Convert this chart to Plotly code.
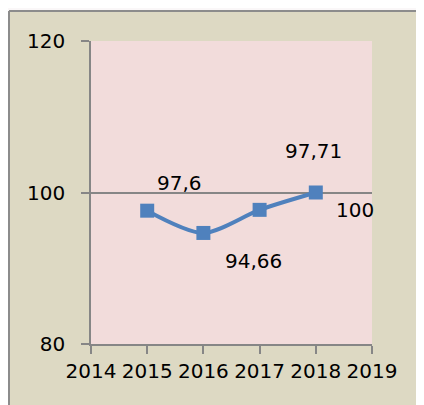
import plotly.graph_objects as go

years = [2015, 2016, 2017, 2018]
values = [97.6, 94.66, 97.71, 100]
labels = ["97,6", "94,66", "97,71", "100"]
x_ticks = [2014, 2015, 2016, 2017, 2018, 2019]
y_ticks = [80, 100, 120]

# label offsets (px) as placed in the original chart
label_dx = [32, 50, -2, 39]
label_dy = [28, -28, 42, -17]
label_anchor_idx = [0, 1, 3, 3]

FONT = "DejaVu Sans"
OUTER = "#FAF7F8"
BEIGE = "#DDD9C3"

fig = go.Figure()
fig.add_trace(go.Scatter(
    x=years, y=values, mode="lines+markers",
    line=dict(color="#4F81BD", width=4, shape="spline", smoothing=0.8),
    marker=dict(symbol="square", size=14, color="#4F81BD"),
    hoverinfo="skip", showlegend=False,
))

for i, txt in enumerate(labels):
    j = label_anchor_idx[i]
    fig.add_annotation(
        x=years[j], y=values[j], text=txt, showarrow=False,
        xshift=label_dx[i], yshift=label_dy[i],
        font=dict(family=FONT, size=20, color="#000000"),
    )

bx0 = -82 / 281
by1 = 1 + 30 / 303
# whitish area outside the chart box
fig.add_shape(type="rect", xref="paper", yref="paper",
              x0=-1, x1=2, y0=by1, y1=2, fillcolor=OUTER, line_width=0, layer="below")
fig.add_shape(type="rect", xref="paper", yref="paper",
              x0=-1, x1=bx0, y0=-1, y1=2, fillcolor=OUTER, line_width=0, layer="below")
# chart box border
fig.add_shape(type="line", xref="paper", yref="paper",
              x0=bx0, x1=2, y0=by1, y1=by1, line=dict(color="#8C8C8C", width=2))
fig.add_shape(type="line", xref="paper", yref="paper",
              x0=bx0, x1=bx0, y0=-1, y1=by1, line=dict(color="#8C8C8C", width=2))

fig.update_layout(
    width=416, height=397,
    margin=dict(l=83, r=52, t=33, b=61),
    paper_bgcolor=BEIGE,
    plot_bgcolor="#F2DCDB",
    font=dict(family=FONT, size=20, color="#000000"),
    xaxis=dict(
        range=[2014, 2019], tickvals=x_ticks, ticktext=[str(t) for t in x_ticks],
        showgrid=False, zeroline=False, showline=True, linecolor="#868686", linewidth=1.5,
        ticks="outside", ticklen=8, tickcolor="#868686", tickwidth=1.5,
        tickfont=dict(family=FONT, size=20, color="#000000"),
    ),
    yaxis=dict(
        range=[80, 120], tickvals=y_ticks,
        showgrid=True, gridcolor="#868686", gridwidth=1.5, zeroline=False,
        showline=True, linecolor="#868686", linewidth=1.5,
        ticks="outside", ticklen=8, tickcolor="#868686", tickwidth=1.5,
        ticklabelstandoff=12,
        tickfont=dict(family=FONT, size=20, color="#000000"),
    ),
)

fig.write_html("out.html")
